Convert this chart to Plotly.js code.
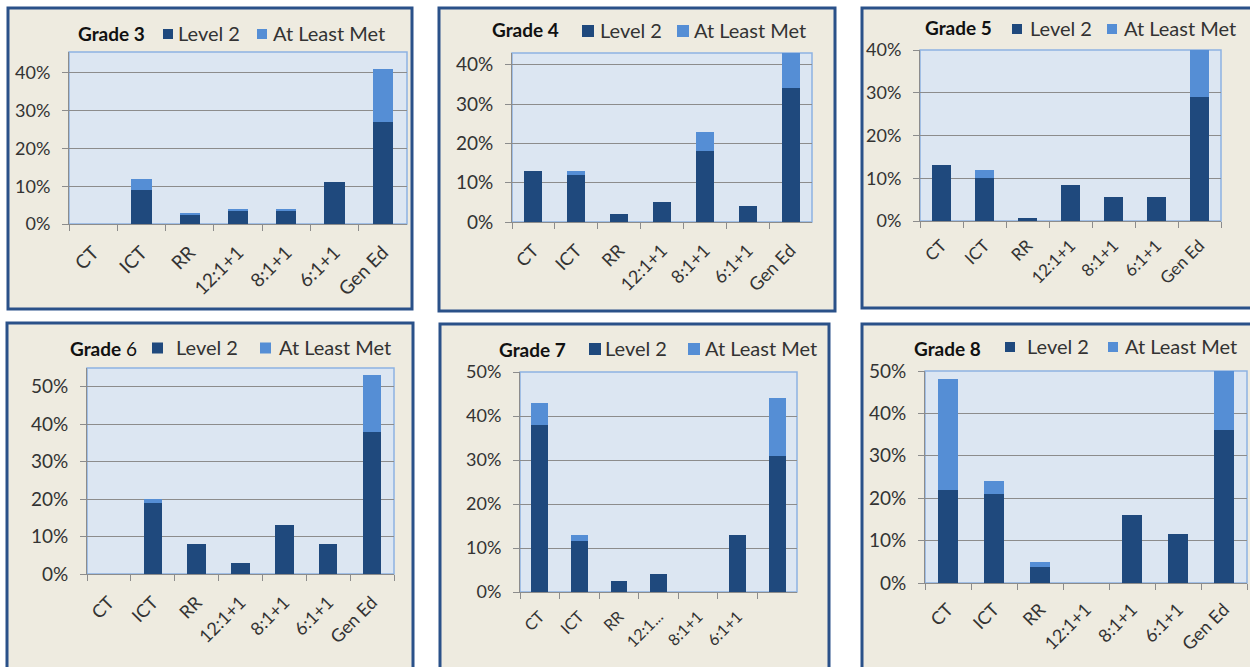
<!DOCTYPE html>
<html>
<head>
<meta charset="utf-8">
<script src="https://cdn.plot.ly/plotly-3.0.1.min.js"></script>
<style>
  html, body { margin: 0; padding: 0; background: #ffffff; }
  #chart { width: 1250px; height: 667px; }
</style>
</head>
<body>
<div id="chart"></div>
<script>
// Placement categories shared by every grade
const categories = ['CT', 'ICT', 'RR', '12:1+1', '8:1+1', '6:1+1', 'Gen Ed'];
// Grade 7 chart shows truncated / missing category labels
const grade7TickLabels = ['CT', 'ICT', 'RR', '12:1...', '8:1+1', '6:1+1', ''];

const gradeNames = ['Grade 3', 'Grade 4', 'Grade 5', 'Grade 6', 'Grade 7', 'Grade 8'];

// Share of students (percent) scoring Level 2, per category
const level2G3 = [0, 9, 2.5, 3.5, 3.5, 11, 27];
const level2G4 = [13, 12, 2, 5, 18, 4, 34];
const level2G5 = [13, 10, 0.7, 8.5, 5.7, 5.7, 29];
const level2G6 = [0, 19, 8, 3, 13, 8, 38];
const level2G7 = [38, 11.5, 2.5, 4, 0, 13, 31];
const level2G8 = [22, 21, 3.7, 0, 16, 11.5, 36];

// Additional share (percent) at least meeting standards, stacked above Level 2
const metG3 = [0, 3, 0.5, 0.5, 0.5, 0, 14];
const metG4 = [0, 1, 0, 0, 5, 0, 9];
const metG5 = [0, 2, 0, 0, 0, 0, 11];
const metG6 = [0, 1, 0, 0, 0, 0, 15];
const metG7 = [5, 1.5, 0, 0, 0, 0, 13];
const metG8 = [26, 3, 1.2, 0, 0, 0, 15];

const level2Series = [level2G3, level2G4, level2G5, level2G6, level2G7, level2G8];
const metSeries = [metG3, metG4, metG5, metG6, metG7, metG8];

// Upper limit of each value axis (percent)
const axisMax = [45.5, 43, 40, 55, 50, 50];

const DARK = '#1F497D';
const LIGHT = '#558ED5';
const PANEL_BG = '#EEEBE0';
const PANEL_EDGE = '#2A5189';
const PLOT_BG = '#DCE6F2';
const PLOT_EDGE = '#8DB3E2';
const GRID = '#8C8C8C';
const TEXT = '#333333';
const FONT = 'Lato, "Open Sans", sans-serif';

const W = 1250, H = 667;
const px = v => v / W;
const py = v => 1 - v / H;

// Page geometry of each chart (pixels): frame, plot box, title and legend spots
const panels = [
  { frame: [8, 8, 412, 309],   plot: [69, 52, 407, 224],   title: [76, 33],   sq1: 163, lab1: 176, sq2: 257, lab2: 271, ly: 33, sq: 10, tick: 19, ytick: 18, xstand: 9 },
  { frame: [439, 8, 835, 311], plot: [512, 53, 812, 222],  title: [490, 30],  sq1: 582, lab1: 598, sq2: 677, lab2: 692, ly: 30, sq: 12, tick: 18, ytick: 19, xstand: 10 },
  { frame: [862, 8, 1262, 308], plot: [920, 50, 1221, 221], title: [923, 28], sq1: 1012, lab1: 1028, sq2: 1107, lab2: 1122, ly: 28, sq: 10, tick: 17, ytick: 18, xstand: 7 },
  { frame: [7, 323, 413, 672], plot: [87, 368, 394, 574],  title: [68, 348],  sq1: 152, lab1: 174, sq2: 260, lab2: 277, ly: 347, sq: 11, tick: 18, ytick: 19, xstand: 10 },
  { frame: [440, 324, 829, 672], plot: [520, 372, 797, 592], title: [497, 350], sq1: 589, lab1: 603, sq2: 688, lab2: 703, ly: 348, sq: 12, tick: 16, ytick: 18, xstand: 8 },
  { frame: [862, 324, 1262, 672], plot: [925, 371, 1247, 583], title: [912, 348], sq1: 1005, lab1: 1025, sq2: 1108, lab2: 1123, ly: 346, sq: 10, tick: 18, ytick: 19, xstand: 8 }
];

const data = [];
const layout = {
  width: W,
  height: H,
  margin: { l: 0, r: 0, t: 0, b: 0 },
  paper_bgcolor: '#ffffff',
  plot_bgcolor: 'rgba(0,0,0,0)',
  barmode: 'stack',
  bargap: 0.58,
  showlegend: false,
  font: { family: FONT, color: TEXT, size: 18 },
  shapes: [],
  annotations: []
};

panels.forEach((p, i) => {
  const n = i === 0 ? '' : String(i + 1);
  const xa = 'x' + n, ya = 'y' + n;

  data.push({
    type: 'bar', name: 'Level 2', x: categories, y: level2Series[i],
    xaxis: xa, yaxis: ya, marker: { color: DARK, line: { width: 0 } },
    hovertemplate: '%{x}: %{y}%<extra>Level 2</extra>'
  });
  data.push({
    type: 'bar', name: 'At Least Met', x: categories, y: metSeries[i],
    xaxis: xa, yaxis: ya, marker: { color: LIGHT, line: { width: 0 } },
    hovertemplate: '%{x}: +%{y}%<extra>At Least Met</extra>'
  });

  const [pl, pt, pr, pb] = p.plot;
  const xaxis = {
    domain: [px(pl), px(pr)],
    anchor: ya,
    type: 'category',
    categoryorder: 'array',
    categoryarray: categories,
    tickangle: -45,
    ticks: 'outside',
    tickson: 'boundaries',
    ticklen: 6,
    tickcolor: GRID,
    tickwidth: 1,
    showline: true,
    linecolor: GRID,
    linewidth: 1,
    showgrid: false,
    ticklabelstandoff: p.xstand,
    tickfont: { family: FONT, size: p.tick, color: TEXT },
    fixedrange: true
  };
  if (i === 4) {
    xaxis.tickmode = 'array';
    xaxis.tickvals = categories;
    xaxis.ticktext = grade7TickLabels;
  }
  const yaxis = {
    domain: [py(pb), py(pt)],
    anchor: xa,
    range: [0, axisMax[i]],
    dtick: 10,
    tick0: 0,
    ticksuffix: '%',
    ticks: 'outside',
    ticklen: 6,
    tickcolor: GRID,
    tickwidth: 1,
    showline: true,
    linecolor: GRID,
    linewidth: 1,
    showgrid: true,
    gridcolor: GRID,
    gridwidth: 1,
    zeroline: false,
    ticklabelstandoff: 8,
    tickfont: { family: FONT, size: p.ytick, color: TEXT },
    fixedrange: true
  };
  layout['xaxis' + n] = xaxis;
  layout['yaxis' + n] = yaxis;

  // chart frame
  const [fl, ft, fr, fb] = p.frame;
  layout.shapes.push({
    type: 'rect', xref: 'paper', yref: 'paper', layer: 'below',
    x0: px(fl), x1: px(fr), y0: py(fb), y1: py(ft),
    fillcolor: PANEL_BG, line: { color: PANEL_EDGE, width: 3 }
  });
  // plot area backdrop
  layout.shapes.push({
    type: 'rect', xref: 'paper', yref: 'paper', layer: 'below',
    x0: px(pl), x1: px(pr), y0: py(pb), y1: py(pt),
    fillcolor: PLOT_BG, line: { color: PLOT_EDGE, width: 1.5 }
  });

  // legend keys
  const s = p.sq;
  [[p.sq1, DARK], [p.sq2, LIGHT]].forEach(([sx, col]) => {
    layout.shapes.push({
      type: 'rect', xref: 'paper', yref: 'paper', layer: 'above',
      x0: px(sx), x1: px(sx + s), y0: py(p.ly + s / 2 + 1), y1: py(p.ly - s / 2 + 1),
      fillcolor: col, line: { width: 0 }
    });
  });

  const titleText = i === 3 ? '<b>Grade</b> 6' : '<b>' + gradeNames[i] + '</b>';
  layout.annotations.push({
    xref: 'paper', yref: 'paper', x: px(p.title[0]), y: py(p.title[1]),
    xanchor: 'left', yanchor: 'middle', showarrow: false,
    text: titleText, font: { family: FONT, size: 19, color: '#111111' }
  });
  layout.annotations.push({
    xref: 'paper', yref: 'paper', x: px(p.lab1), y: py(p.ly),
    xanchor: 'left', yanchor: 'middle', showarrow: false,
    text: 'Level 2', font: { family: FONT, size: 20, color: TEXT }
  });
  layout.annotations.push({
    xref: 'paper', yref: 'paper', x: px(p.lab2), y: py(p.ly),
    xanchor: 'left', yanchor: 'middle', showarrow: false,
    text: 'At Least Met', font: { family: FONT, size: 20, color: TEXT }
  });
});

Plotly.newPlot('chart', data, layout, { displayModeBar: false, staticPlot: true });
</script>
</body>
</html>
